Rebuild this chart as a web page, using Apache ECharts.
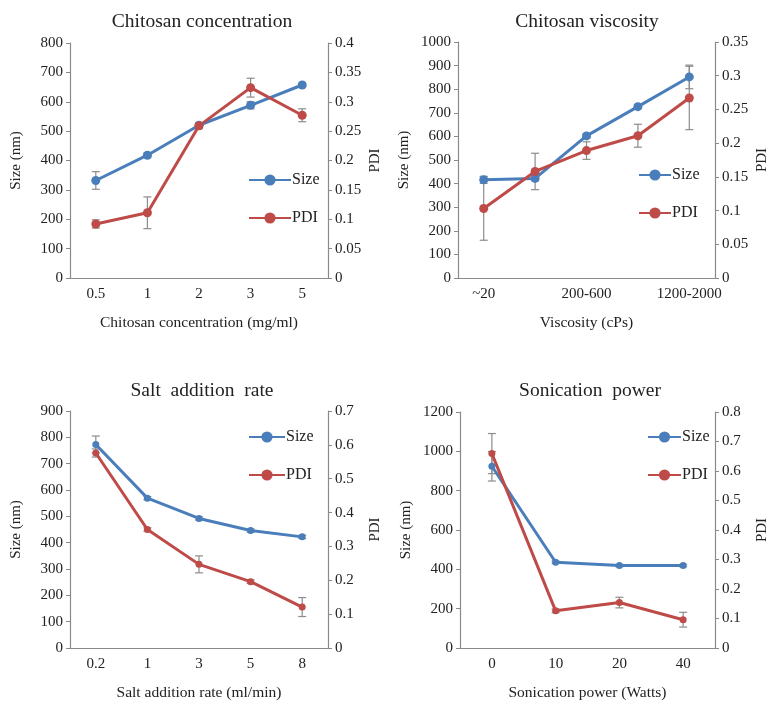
<!DOCTYPE html>
<html>
<head>
<meta charset="utf-8">
<script src="https://cdn.jsdelivr.net/npm/echarts@6/dist/echarts.min.js"></script>
<style>
  html, body { margin: 0; background: #fff; }
  #chart { width: 771px; height: 704px; }
</style>
</head>
<body>
<div id="chart"></div>
<script>
// Chitosan concentration
const concLabels = ["0.5", "1", "2", "3", "5"];
const concSize = [332, 418, 520, 588, 657];
const concSizeErr = [30, 8, 8, 12, 6];
const concPdi = [0.092, 0.111, 0.259, 0.324, 0.277];
const concPdiErr = [0.007, 0.027, 0.005, 0.016, 0.011];

// Chitosan viscosity
const viscLabels = ["~20", "20-200", "200-600", "600-1200", "1200-2000"];
const viscSize = [416, 422, 602, 726, 852];
const viscSizeErr = [15, 10, 10, 8, 50];
const viscPdi = [0.103, 0.158, 0.189, 0.211, 0.267];
const viscPdiErr = [0.047, 0.027, 0.013, 0.017, 0.047];

// Salt addition rate
const saltLabels = ["0.2", "1", "3", "5", "8"];
const saltSize = [773, 569, 492, 446, 422];
const saltSizeErr = [32, 6, 6, 6, 6];
const saltPdi = [0.576, 0.350, 0.247, 0.196, 0.121];
const saltPdiErr = [0.012, 0.005, 0.025, 0.005, 0.028];

// Sonication power
const sonLabels = ["0", "10", "20", "40"];
const sonSize = [924, 436, 419, 419];
const sonSizeErr = [75, 6, 6, 6];
const sonPdi = [0.659, 0.126, 0.154, 0.096];
const sonPdiErr = [0.068, 0.006, 0.018, 0.025];

const BLUE = "#4a7ebb";
const RED = "#be4b48";
const AXIS = "#8a8a8a";
const FONT = "Liberation Serif";

const panels = [
  { title: "Chitosan concentration", xName: "Chitosan concentration (mg/ml)",
    cats: concLabels, size: concSize, sizeErr: concSizeErr, pdi: concPdi, pdiErr: concPdiErr,
    grid: { left: 70, top: 43, width: 258, height: 235 }, titleX: 197, titleY: 7,
    sizeMax: 800, sizeStep: 100, pdiMax: 0.4, pdiStep: 0.05, legend: [248, 179], sym: 9, legW: 42 },
  { title: "Chitosan viscosity", xName: "Viscosity (cPs)",
    cats: viscLabels, size: viscSize, sizeErr: viscSizeErr, pdi: viscPdi, pdiErr: viscPdiErr,
    grid: { left: 458, top: 42, width: 257, height: 236 }, titleX: 582, titleY: 7,
    sizeMax: 1000, sizeStep: 100, pdiMax: 0.35, pdiStep: 0.05, legend: [638, 174], sym: 9, legW: 32,
    labelInterval: 1 },
  { title: "Salt  addition  rate", xName: "Salt addition rate (ml/min)",
    cats: saltLabels, size: saltSize, sizeErr: saltSizeErr, pdi: saltPdi, pdiErr: saltPdiErr,
    grid: { left: 70, top: 411, width: 258, height: 237 }, titleX: 197, titleY: 376,
    sizeMax: 900, sizeStep: 100, pdiMax: 0.7, pdiStep: 0.1, legend: [248, 436], sym: 7, legW: 36 },
  { title: "Sonication  power", xName: "Sonication power (Watts)",
    cats: sonLabels, size: sonSize, sizeErr: sonSizeErr, pdi: sonPdi, pdiErr: sonPdiErr,
    grid: { left: 460, top: 412, width: 262, height: 236 }, titleX: 585, titleY: 376,
    sizeMax: 1200, sizeStep: 200, pdiMax: 0.8, pdiStep: 0.1, legend: [647, 436], sym: 7, legW: 33 }
];

function errBar(xIdx, yIdx, vals, errs) {
  return {
    type: "custom", xAxisIndex: xIdx, yAxisIndex: yIdx, z: 1, silent: true,
    data: vals.map((v, i) => [i, v, errs[i]]),
    renderItem: (params, api) => {
      const i = api.value(0), v = api.value(1), e = api.value(2);
      const hi = api.coord([i, v + e]), lo = api.coord([i, v - e]);
      const style = { stroke: "#8c8c8c", lineWidth: 1.2 };
      return { type: "group", children: [
        { type: "line", shape: { x1: hi[0], y1: hi[1], x2: lo[0], y2: lo[1] }, style },
        { type: "line", shape: { x1: hi[0] - 4, y1: hi[1], x2: hi[0] + 4, y2: hi[1] }, style },
        { type: "line", shape: { x1: lo[0] - 4, y1: lo[1], x2: lo[0] + 4, y2: lo[1] }, style }
      ]};
    }
  };
}

const axisLine = { lineStyle: { color: AXIS, width: 1.2 } };
const axisTick = { lineStyle: { color: AXIS }, length: 4 };
const labelStyle = { fontFamily: FONT, fontSize: 15, color: "#222" };

const option = {
  animation: false,
  backgroundColor: "#fff",
  title: [], legend: [], grid: [], xAxis: [], yAxis: [], series: []
};

panels.forEach((p, k) => {
  option.title.push({
    text: p.title, left: p.titleX, top: p.titleY, textAlign: "center",
    textStyle: { fontFamily: FONT, fontSize: 19.5, fontWeight: "normal", color: "#222" }
  });
  option.grid.push(p.grid);
  option.xAxis.push({
    type: "category", gridIndex: k, data: p.cats,
    name: p.xName, nameLocation: "middle", nameGap: 37,
    nameTextStyle: { fontFamily: FONT, fontSize: 15.5, color: "#222" },
    axisLine, axisTick: { ...axisTick, length: 5 },
    axisLabel: { ...labelStyle, margin: 9, interval: p.labelInterval ?? 0 }
  });
  option.yAxis.push({
    type: "value", gridIndex: k, min: 0, max: p.sizeMax, interval: p.sizeStep,
    name: "Size (nm)", nameLocation: "middle", nameGap: 46,
    nameTextStyle: { fontFamily: FONT, fontSize: 15, color: "#222" },
    axisLine: { show: true, ...axisLine }, axisTick: { show: true, ...axisTick },
    axisLabel: { ...labelStyle, margin: 7, formatter: (v) => String(v) }, splitLine: { show: false }
  });
  option.yAxis.push({
    type: "value", gridIndex: k, position: "right", min: 0, max: p.pdiMax, interval: p.pdiStep,
    name: "PDI", nameLocation: "middle", nameGap: 40,
    nameTextStyle: { fontFamily: FONT, fontSize: 15, color: "#222" },
    axisLine: { show: true, ...axisLine }, axisTick: { show: true, ...axisTick },
    axisLabel: { ...labelStyle, margin: 7, formatter: (v) => String(+v.toFixed(2)) }, splitLine: { show: false }
  });
  option.legend.push({
    orient: "vertical", left: p.legend[0], top: p.legend[1] - 7, padding: 0, itemGap: 22,
    itemWidth: p.legW, itemHeight: 14, data: ["Size", "PDI"],
    textStyle: { fontFamily: FONT, fontSize: 16, color: "#222", padding: [0, 0, 0, -4] }
  });
  const yS = 2 * k, yP = 2 * k + 1;
  option.series.push(errBar(k, yS, p.size, p.sizeErr));
  option.series.push(errBar(k, yP, p.pdi, p.pdiErr));
  option.series.push({
    name: "Size", type: "line", xAxisIndex: k, yAxisIndex: yS, data: p.size, z: 3,
    symbol: "circle", symbolSize: p.sym, color: BLUE,
    lineStyle: { color: BLUE, width: 3 }, itemStyle: { color: BLUE }
  });
  option.series.push({
    name: "PDI", type: "line", xAxisIndex: k, yAxisIndex: yP, data: p.pdi, z: 3,
    symbol: "circle", symbolSize: p.sym, color: RED,
    lineStyle: { color: RED, width: 3 }, itemStyle: { color: RED }
  });
});

const chart = echarts.init(document.getElementById("chart"));
chart.setOption(option);
</script>
</body>
</html>
